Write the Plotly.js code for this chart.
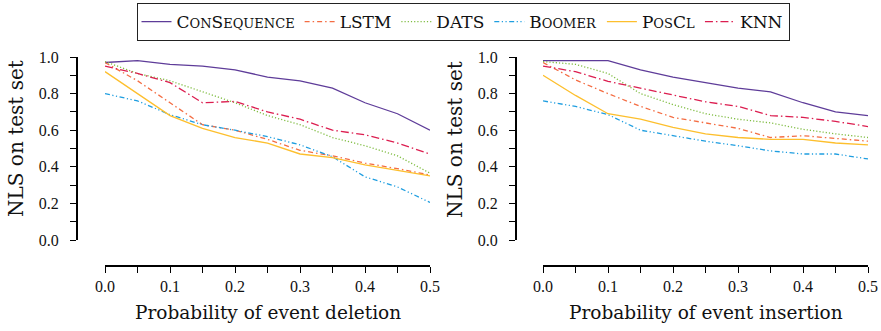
<!DOCTYPE html>
<html>
<head>
<meta charset="utf-8">
<script src="https://cdn.plot.ly/plotly-3.0.1.min.js"></script>
<style>html,body{margin:0;padding:0;background:#fff;}#chart{width:881px;height:331px;}</style>
</head>
<body>
<div id="chart"></div>
<script>
// ---- data ----
const probs = [0.0, 0.05, 0.1, 0.15, 0.2, 0.25, 0.3, 0.35, 0.4, 0.45, 0.5];

// deletion (left panel)
const delConSequence = [0.97, 0.98, 0.96, 0.95, 0.93, 0.89, 0.87, 0.83, 0.75, 0.69, 0.60];
const delLSTM        = [0.97, 0.87, 0.75, 0.63, 0.60, 0.55, 0.49, 0.46, 0.42, 0.39, 0.355];
const delDATS        = [0.975, 0.91, 0.87, 0.81, 0.75, 0.68, 0.63, 0.56, 0.515, 0.46, 0.365];
const delBoomer      = [0.80, 0.76, 0.685, 0.63, 0.60, 0.565, 0.52, 0.455, 0.345, 0.29, 0.205];
const delPosCl       = [0.92, 0.80, 0.68, 0.61, 0.56, 0.53, 0.47, 0.45, 0.41, 0.38, 0.35];
const delKNN         = [0.95, 0.91, 0.86, 0.75, 0.757, 0.70, 0.66, 0.60, 0.575, 0.53, 0.47];

// insertion (right panel)
const insConSequence = [0.98, 0.98, 0.98, 0.93, 0.89, 0.86, 0.83, 0.81, 0.75, 0.70, 0.68];
const insLSTM        = [0.97, 0.875, 0.80, 0.73, 0.67, 0.64, 0.61, 0.56, 0.57, 0.555, 0.54];
const insDATS        = [0.975, 0.96, 0.91, 0.80, 0.74, 0.69, 0.66, 0.64, 0.605, 0.58, 0.56];
const insBoomer      = [0.76, 0.73, 0.685, 0.60, 0.57, 0.54, 0.515, 0.487, 0.47, 0.47, 0.443];
const insPosCl       = [0.90, 0.79, 0.69, 0.66, 0.615, 0.58, 0.56, 0.55, 0.55, 0.53, 0.52];
const insKNN         = [0.95, 0.92, 0.867, 0.83, 0.795, 0.755, 0.73, 0.68, 0.67, 0.648, 0.62];

const sc = s => '<span style="font-size:13px">' + s + '</span>';
const seriesNames = ['C' + sc('ON') + 'S' + sc('EQUENCE'),
                     'LSTM', 'DATS',
                     'B' + sc('OOMER'),
                     'P' + sc('OS') + 'C' + sc('L'),
                     'KNN'];
const xTickVals = [0, 0.05, 0.1, 0.15, 0.2, 0.25, 0.3, 0.35, 0.4, 0.45, 0.5];
const xTickText = ['0.0', '', '0.1', '', '0.2', '', '0.3', '', '0.4', '', '0.5'];
const yTickVals = [0, 0.1, 0.2, 0.3, 0.4, 0.5, 0.6, 0.7, 0.8, 0.9, 1.0];
const yTickText = ['0.0', '', '0.2', '', '0.4', '', '0.6', '', '0.8', '', '1.0'];
const xTitles = ['Probability of event deletion', 'Probability of event insertion'];
const yTitle = 'NLS on test set';

// ---- styles ----
const styles = [
  {color: '#5e3c99', dash: 'solid'},
  {color: '#f46d43', dash: '5px,3px,1.5px,3px'},
  {color: '#7fbc41', dash: '1.2px,2px'},
  {color: '#1f9ee0', dash: '5px,2.5px,1.2px,2.5px,1.2px,2.5px'},
  {color: '#fdbf2d', dash: 'solid'},
  {color: '#dc1e50', dash: '8px,3px,1.5px,3px'}
];
const delData = [delConSequence, delLSTM, delDATS, delBoomer, delPosCl, delKNN];
const insData = [insConSequence, insLSTM, insDATS, insBoomer, insPosCl, insKNN];

const traces = [];
delData.forEach((ys, i) => traces.push({
  x: probs, y: ys, type: 'scatter', mode: 'lines', name: seriesNames[i],
  legendgroup: 'g' + i, showlegend: true, xaxis: 'x', yaxis: 'y',
  line: {color: styles[i].color, dash: styles[i].dash, width: 1.3}
}));
insData.forEach((ys, i) => traces.push({
  x: probs, y: ys, type: 'scatter', mode: 'lines', name: seriesNames[i],
  legendgroup: 'g' + i, showlegend: false, xaxis: 'x2', yaxis: 'y2',
  line: {color: styles[i].color, dash: styles[i].dash, width: 1.3}
}));

const W = 881, H = 331;
const fx = px => px / W;
const fy = py => (H - py) / H;
const serif = 'DejaVu Serif';
const tickSerif = 'Liberation Serif';

function xa(d0, d1) {
  return {
    domain: [fx(d0), fx(d1)], range: [0, 0.5], anchor: 'free', position: fy(266),
    showline: true, linecolor: '#000', linewidth: 2, ticks: 'outside', ticklen: 6,
    tickwidth: 1, tickcolor: '#000', tickmode: 'array', tickvals: xTickVals, ticktext: xTickText,
    showgrid: false, zeroline: false, ticklabelstandoff: 0,
    tickfont: {family: tickSerif, size: 16, color: '#111'}, fixedrange: true
  };
}
function ya(pos) {
  return {
    domain: [fy(240), fy(57)], range: [0, 1], anchor: 'free', position: fx(pos),
    showline: true, linecolor: '#000', linewidth: 2, ticks: 'outside', ticklen: 6,
    tickwidth: 1, tickcolor: '#000', tickmode: 'array', tickvals: yTickVals, ticktext: yTickText,
    showgrid: false, zeroline: false, ticklabelstandoff: 8,
    tickfont: {family: tickSerif, size: 16, color: '#111'}, fixedrange: true
  };
}

const ann = (text, x, y, size, rot) => ({
  text: text, xref: 'paper', yref: 'paper', x: fx(x), y: fy(y), showarrow: false,
  xanchor: 'center', yanchor: 'middle', textangle: rot || 0,
  font: {family: serif, size: size, color: '#111'}
});

const layout = {
  width: W, height: H,
  margin: {l: 0, r: 0, t: 0, b: 0, pad: 0},
  paper_bgcolor: '#fff', plot_bgcolor: '#fff',
  font: {family: serif, color: '#111'},
  xaxis: xa(105, 430),
  yaxis: ya(77),
  xaxis2: xa(543, 868),
  yaxis2: ya(516),
  showlegend: true,
  legend: {
    orientation: 'h', x: fx(463), xanchor: 'center', y: fy(3), yanchor: 'top',
    bordercolor: '#222', borderwidth: 1, bgcolor: '#fff',
    font: {family: serif, size: 17, color: '#111'}, itemwidth: 30, tracegroupgap: 0
  },
  annotations: [
    ann(xTitles[0], 267.5, 312, 18.5),
    ann(xTitles[1], 705.5, 312, 18.5),
    ann(yTitle, 16, 139, 20, -90),
    ann(yTitle, 455, 139, 20, -90)
  ]
};

Plotly.newPlot('chart', traces, layout, {staticPlot: true, displayModeBar: false});
</script>
</body>
</html>
